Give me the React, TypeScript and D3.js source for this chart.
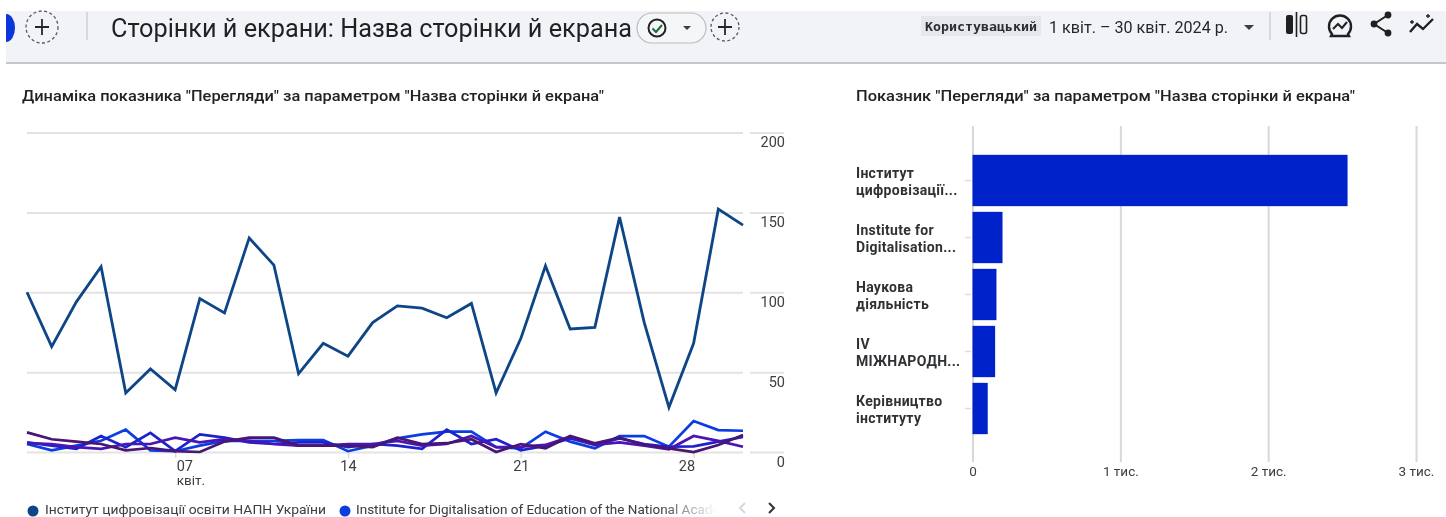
import React, { useEffect, useRef } from 'react';
import * as d3 from 'd3';

const days = d3.range(1, 31);
const viewsMain = [100, 66, 94, 116, 37, 52, 39, 96, 87, 134, 117, 49, 68, 60, 81, 91.5, 90, 84, 93, 37, 71, 116.5, 77, 78, 147, 81, 28, 68, 152, 142];
const viewsBlue = [5, 1, 4, 7, 14, 1, 0.5, 4, 7, 7, 7, 7.5, 7.5, 0.5, 4, 8.5, 11, 12.7, 12.7, 3, 2.3, 12.7, 6.5, 2.3, 10, 10, 3.3, 19.4, 13.7, 13.3];
const viewsDeepBlue = [6, 4, 2, 10, 3, 12, 0.5, 11, 9, 6, 5, 6, 6, 3, 5, 4, 2, 14, 5, 8, 1, 4, 8.5, 4.4, 8.5, 5, 3.3, 3.5, 6.5, 9.4];
const viewsIndigo = [5.5, 5, 3, 2, 5, 5, 9, 6, 8, 7, 5, 4, 4, 5, 5, 7, 4, 5, 10, 3, 3.3, 4.4, 9.6, 4.4, 6, 4, 1.7, 10, 7, 3.3];
const viewsPurple = [12.3, 8, 6.5, 5, 1, 2.5, 0.5, 0, 6.5, 9, 9, 4, 4, 4, 3, 9, 5, 5.5, 8, 0, 5, 2.3, 10, 5.4, 9, 4.4, 2.3, 0, 4.4, 10.6];
const lineSeries = [viewsMain, viewsBlue, viewsDeepBlue, viewsIndigo, viewsPurple];
const lineColors = ['#0b4587', '#0a3ce0', '#1c22cc', '#4a14b4', '#4a1272'];
const yTicks = [0, 50, 100, 150, 200];

const barNames = [
	['Інститут', 'цифровізації...'],
	['Institute for', 'Digitalisation...'],
	['Наукова', 'діяльність'],
	['IV', 'МІЖНАРОДН...'],
	['Керівництво', 'інституту'],
];
const barValues = [2537, 203, 162, 153, 103];
const barTicks = [0, 1000, 2000, 3000];
const barTickLabels = ['0', '1 тис.', '2 тис.', '3 тис.'];

const pageTitle = 'Сторінки й екрани: Назва сторінки й екрана';
const lineTitle = 'Динаміка показника "Перегляди" за параметром "Назва сторінки й екрана"';
const barTitle = 'Показник "Перегляди" за параметром "Назва сторінки й екрана"';
const legendNames = ['Інститут цифровізації освіти НАПН України', 'Institute for Digitalisation of Education of the National Academy'];

const FONT = 'Roboto, sans-serif';

export default function App() {
	const ref = useRef<SVGSVGElement | null>(null);

	useEffect(() => {
		if (!ref.current) return;
		const svg = d3.select(ref.current);
		svg.selectAll('*').remove();
		svg.style('font-family', FONT);

		const defs = svg.append('defs');
		const fade = defs.append('linearGradient').attr('id', 'legendFade').attr('gradientUnits', 'userSpaceOnUse').attr('x1', 660).attr('x2', 716).attr('y1', 0).attr('y2', 0);
		fade.append('stop').attr('offset', 0).attr('stop-color', '#3c4043');
		fade.append('stop').attr('offset', 1).attr('stop-color', '#ffffff');
		defs.append('filter').attr('id', 'soft').append('feGaussianBlur').attr('stdDeviation', 0.5);

		const root = svg.append('g').attr('filter', 'url(#soft)');

		// page header
		root.append('rect').attr('x', 6).attr('y', 11).attr('width', 1440).attr('height', 51).attr('fill', '#f1f3f7');
		root.append('rect').attr('x', 6).attr('y', 62).attr('width', 1440).attr('height', 2).attr('fill', '#c4c6c9');
		root.append('path').attr('d', 'M6 14 A9 14 0 0 1 6 42 Z').attr('fill', '#0b36dc');

		const plusButton = (cx: number, cy: number, r: number) => {
			root.append('circle').attr('cx', cx).attr('cy', cy).attr('r', r).attr('fill', 'none').attr('stroke', '#55585c').attr('stroke-width', 1.3).attr('stroke-dasharray', '3 2.5');
			root.append('path').attr('d', `M${cx - 7} ${cy}H${cx + 7}M${cx} ${cy - 8}V${cy + 8}`).attr('stroke', '#26282b').attr('stroke-width', 1.8);
		};
		plusButton(42, 27, 16);
		plusButton(725, 27, 14);
		root.append('line').attr('x1', 87).attr('x2', 87).attr('y1', 12).attr('y2', 40).attr('stroke', '#cfd1d4').attr('stroke-width', 1.5);
		root.append('text').attr('x', 111).attr('y', 37).attr('font-size', 26).attr('fill', '#1f2124').attr('textLength', 521).attr('lengthAdjust', 'spacingAndGlyphs').text(pageTitle);

		root.append('rect').attr('x', 637).attr('y', 13).attr('width', 69).attr('height', 30).attr('rx', 15).attr('fill', '#f5f6f8').attr('stroke', '#b9bcc0').attr('stroke-width', 1.2);
		root.append('circle').attr('cx', 657).attr('cy', 28).attr('r', 8.5).attr('fill', 'none').attr('stroke', '#202225').attr('stroke-width', 2);
		root.append('path').attr('d', 'M652.5 28.5L656 32L662 25').attr('fill', 'none').attr('stroke', '#1d6b3a').attr('stroke-width', 2);
		root.append('path').attr('d', 'M683 26H691L687 30Z').attr('fill', '#3a3c40');

		root.append('rect').attr('x', 921).attr('y', 16).attr('width', 120).attr('height', 20).attr('fill', '#e6e7ea');
		root.append('text').attr('x', 925).attr('y', 31).attr('font-size', 12.5).attr('font-weight', 700).attr('fill', '#2b2d30').attr('font-family', 'DejaVu Sans Mono, monospace').attr('textLength', 112).attr('lengthAdjust', 'spacingAndGlyphs').text('Користувацький');
		root.append('text').attr('x', 1049).attr('y', 33).attr('font-size', 17).attr('fill', '#25272a').attr('textLength', 179).attr('lengthAdjust', 'spacingAndGlyphs').text('1 квіт. – 30 квіт. 2024 р.');
		root.append('path').attr('d', 'M1244 25H1254L1249 30Z').attr('fill', '#3a3c40');
		root.append('line').attr('x1', 1270).attr('x2', 1270).attr('y1', 12).attr('y2', 40).attr('stroke', '#cfd1d4').attr('stroke-width', 1.5);

		// header icons
		root.append('rect').attr('x', 1286).attr('y', 15).attr('width', 7).attr('height', 19).attr('rx', 2).attr('fill', '#1f2124');
		root.append('line').attr('x1', 1296.5).attr('x2', 1296.5).attr('y1', 12).attr('y2', 37).attr('stroke', '#1f2124').attr('stroke-width', 1.6);
		root.append('rect').attr('x', 1300.5).attr('y', 15.5).attr('width', 6).attr('height', 18).attr('rx', 2).attr('fill', 'none').attr('stroke', '#1f2124').attr('stroke-width', 1.6);
		root.append('path').attr('d', 'M1332 34A11 11 0 1 1 1348 34L1349 36H1331Z').attr('fill', 'none').attr('stroke', '#1f2124').attr('stroke-width', 2.4);
		root.append('path').attr('d', 'M1333 29L1338 24L1342 28L1347 22').attr('fill', 'none').attr('stroke', '#1f2124').attr('stroke-width', 2);
		root.append('path').attr('d', 'M1388 15L1374 24L1388 33').attr('fill', 'none').attr('stroke', '#1f2124').attr('stroke-width', 2);
		[[1388, 15], [1374, 24], [1388, 33]].forEach(([cx, cy]) => {
			root.append('circle').attr('cx', cx).attr('cy', cy).attr('r', 3.4).attr('fill', '#1f2124');
		});
		root.append('path').attr('d', 'M1410 32L1417 24L1423 29L1433 19').attr('fill', 'none').attr('stroke', '#1f2124').attr('stroke-width', 2.4);
		root.append('path').attr('d', 'M1412 20V24M1410 22H1414M1428 14V18M1426 16H1430').attr('stroke', '#1f2124').attr('stroke-width', 1.3);

		// chart titles
		root.append('text').attr('x', 22).attr('y', 101).attr('font-size', 15).attr('font-weight', 500).attr('fill', '#202124').attr('textLength', 582).attr('lengthAdjust', 'spacingAndGlyphs').text(lineTitle);
		root.append('text').attr('x', 856).attr('y', 101).attr('font-size', 15).attr('font-weight', 500).attr('fill', '#202124').attr('textLength', 499).attr('lengthAdjust', 'spacingAndGlyphs').text(barTitle);

		// line chart
		const x = d3.scaleLinear().domain([1, 30]).range([27, 743]);
		const y = d3.scaleLinear().domain([0, 200]).range([452, 132.5]);

		const grid = root.append('g').attr('transform', 'translate(27,0)').call(d3.axisRight(y).tickValues(yTicks).tickSize(716).tickFormat(() => ''));
		grid.select('.domain').remove();
		grid.selectAll('line').attr('stroke', '#e3e3e3').attr('stroke-width', 2);

		const yAxis = root.append('g').attr('transform', 'translate(750,0)').call(d3.axisRight(y).tickValues(yTicks).tickSize(34).tickPadding(-34));
		yAxis.select('.domain').remove();
		yAxis.selectAll('line').attr('stroke', '#e3e3e3').attr('stroke-width', 2);
		yAxis.selectAll('text').attr('text-anchor', 'end').attr('x', 35).attr('dy', '0.98em').attr('font-family', FONT).attr('font-size', 14.5).attr('fill', '#3c4043');

		const dayLabel = (d: number) => (d === 7 ? '07' : String(d));
		const xAxis = root.append('g').attr('transform', 'translate(0,452)').call(d3.axisBottom(x).tickValues([7, 14, 21, 28]).tickSize(6).tickFormat((d) => dayLabel(+d)));
		xAxis.select('.domain').remove();
		xAxis.selectAll('line').attr('stroke', '#dcdcdc').attr('stroke-width', 1.5);
		xAxis.selectAll('text')
			.attr('font-family', FONT).attr('font-size', 14.5).attr('fill', '#3c4043').attr('y', 9)
			.attr('text-anchor', (d) => (+d === 7 ? 'start' : +d === 28 ? 'end' : 'middle'))
			.attr('x', (d) => (+d === 7 || +d === 28 ? 1 : 0));
		// month name sits under the first date, same text element
		xAxis.selectAll('text').filter((d) => +d === 7).append('tspan').attr('x', 1).attr('dy', 14).attr('font-size', 13.5).text('квіт.');

		const line = d3.line<number>().x((_, i) => x(days[i])).y((d) => y(d));
		lineSeries.forEach((values, i) => {
			root.append('path').attr('d', line(values)).attr('fill', 'none').attr('stroke', lineColors[i]).attr('stroke-width', i === 0 ? 2.8 : 2.7).attr('stroke-linejoin', 'miter');
		});

		// legend under line chart
		root.append('circle').attr('cx', 33).attr('cy', 511).attr('r', 5.5).attr('fill', lineColors[0]);
		root.append('text').attr('x', 45).attr('y', 514).attr('font-size', 13.5).attr('fill', '#3c4043').attr('textLength', 281).attr('lengthAdjust', 'spacingAndGlyphs').text(legendNames[0]);
		root.append('circle').attr('cx', 345).attr('cy', 511).attr('r', 5.5).attr('fill', lineColors[1]);
		defs.append('clipPath').attr('id', 'legendClip').append('rect').attr('x', 350).attr('y', 495).attr('width', 368).attr('height', 25);
		root.append('text').attr('x', 356).attr('y', 514).attr('font-size', 13.5).attr('fill', 'url(#legendFade)').attr('clip-path', 'url(#legendClip)').text(legendNames[1]);
		root.append('path').attr('d', 'M745 503L740 508L745 513').attr('fill', 'none').attr('stroke', '#d5d7da').attr('stroke-width', 2);
		root.append('path').attr('d', 'M769 503L774 508L769 513').attr('fill', 'none').attr('stroke', '#303236').attr('stroke-width', 2);

		// bar chart
		const bx = d3.scaleLinear().domain([0, 3000]).range([972.5, 1416]);
		const by = d3.scaleBand<number>().domain(d3.range(barValues.length)).range([152, 437]).paddingInner(0.1).paddingOuter(0.05);

		const barGrid = root.append('g').attr('transform', 'translate(0,462)').call(d3.axisBottom(bx).tickValues(barTicks).tickSize(-336).tickPadding(4).tickFormat((_, i) => barTickLabels[i]));
		barGrid.select('.domain').remove();
		barGrid.selectAll('line').attr('stroke', '#d8d8d8').attr('stroke-width', 2);
		barGrid.selectAll('text').attr('font-family', FONT).attr('font-size', 13.5).attr('fill', '#3c4043');

		root.selectAll('.bar')
			.data(barValues)
			.enter()
			.append('rect')
			.attr('class', 'bar')
			.attr('x', bx(0))
			.attr('y', (_, i) => by(i)!)
			.attr('width', (d) => bx(d) - bx(0))
			.attr('height', by.bandwidth())
			.attr('fill', '#0320ca');

		barNames.forEach((name, i) => {
			const cy = by(i)! + by.bandwidth() / 2;
			root.append('line').attr('x1', 965).attr('x2', 971).attr('y1', cy).attr('y2', cy).attr('stroke', '#dcdcdc').attr('stroke-width', 1.5);
			name.forEach((row, k) => {
				root.append('text').attr('x', 856).attr('y', cy - 3 + k * 17).attr('font-size', 14).attr('font-weight', 700).attr('fill', '#2f3134').attr('letter-spacing', 0.3).text(row);
			});
		});
	}, []);

	return <svg ref={ref} width={1446} height={517} viewBox="0 0 1446 517" style={{ position: 'absolute', left: 0, top: 0, background: '#fff' }} />;
}
